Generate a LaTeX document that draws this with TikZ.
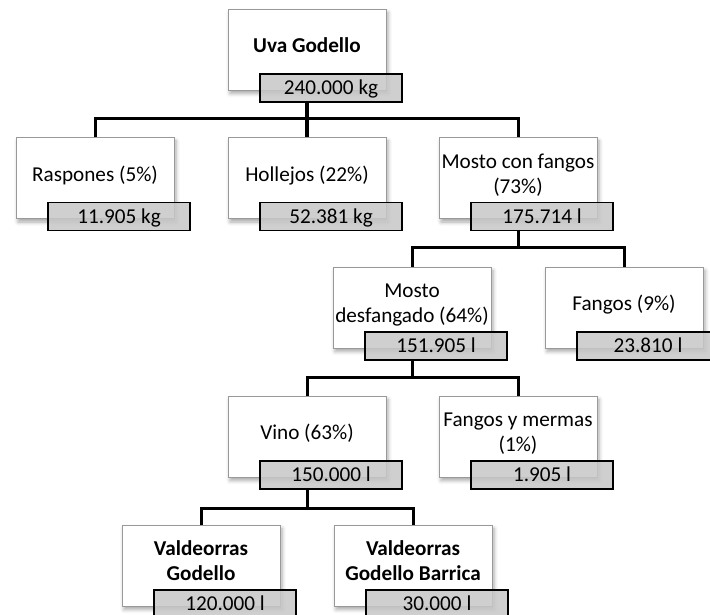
\documentclass[tikz,border=0pt]{standalone}
\usepackage{fontspec}
\setmainfont{Carlito}
\usetikzlibrary{shadows.blur}

\begin{document}
\begin{tikzpicture}[x=0.5pt,y=-0.5pt,
    caja/.style={draw=black!40,fill=white,line width=0.5pt,
                 minimum width=79pt,minimum height=40.5pt,inner sep=0pt,
                 align=center,text depth=5pt,
                 font=\fontsize{10.6}{12.5}\selectfont,
                 blur shadow={shadow xshift=1pt,shadow yshift=-1.5pt,
                              shadow blur steps=4,shadow opacity=35}},
    negrita/.style={font=\fontsize{10.6}{12.5}\selectfont\bfseries},
    cant/.style={draw=black,fill=black!22,fill opacity=0.85,text opacity=1,
                 line width=0.6pt,minimum width=71pt,minimum height=14pt,
                 inner sep=0pt,text height=6.6pt,text depth=0pt,
                 font=\fontsize{10.6}{12.5}\selectfont},
    flow/.style={draw=black,line width=1.5pt}
  ]
    \useasboundingbox (0,0) rectangle (710,614);

    % niveles de las barras
    \coordinate (nivel1) at (0,119);
    \coordinate (nivel2) at (0,248);
    \coordinate (nivel3) at (0,377);
    \coordinate (nivel4) at (0,508);

    \node[caja,negrita] (uva) at (307,50) {Uva Godello};
    \node[cant] (uvaq) at ([xshift=12pt,yshift=1.5pt]uva.south) {240.000 kg};

    \node[caja] (rasp) at (95,178.5) {Raspones (5\%)};
    \node[cant] (raspq) at ([xshift=12pt,yshift=1.5pt]rasp.south) {11.905 kg};
    \node[caja] (holl) at (307,178.5) {Hollejos (22\%)};
    \node[cant] (hollq) at ([xshift=12pt,yshift=1.5pt]holl.south) {52.381 kg};
    \node[caja] (mcf) at (518,178.5) {Mosto con fangos\\(73\%)};
    \node[cant] (mcfq) at ([xshift=12pt,yshift=1.5pt]mcf.south) {175.714 l};

    \node[caja] (mdes) at (412,308) {Mosto\\desfangado (64\%)};
    \node[cant] (mdesq) at ([xshift=12pt,yshift=1.5pt]mdes.south) {151.905 l};
    \node[caja] (fang) at (624,308) {Fangos (9\%)};
    \node[cant] (fangq) at ([xshift=12pt,yshift=1.5pt]fang.south) {23.810 l};

    \node[caja] (vino) at (307,437) {Vino (63\%)};
    \node[cant] (vinoq) at ([xshift=12pt,yshift=1.5pt]vino.south) {150.000 l};
    \node[caja] (fym) at (518,437) {Fangos y mermas\\(1\%)};
    \node[cant] (fymq) at ([xshift=12pt,yshift=1.5pt]fym.south) {1.905 l};

    \node[caja,negrita] (vg) at (201,566) {Valdeorras\\Godello};
    \node[cant] (vgq) at ([xshift=12pt,yshift=1.5pt]vg.south) {120.000 l};
    \node[caja,negrita] (vgb) at (413,566) {Valdeorras\\Godello Barrica};
    \node[cant] (vgbq) at ([xshift=12pt,yshift=1.5pt]vgb.south) {30.000 l};

    % uva -> raspones, hollejos, mosto
    \draw[flow,line width=2.4pt] (uvaq.south -| uva) -- (holl.north);
    \draw[flow] (rasp.north) -- (rasp |- nivel1) -- (mcf |- nivel1) -- (mcf.north);

    % mosto con fangos -> desfangado, fangos
    \draw[flow] (mcfq.south -| mcf) -- (mcf |- nivel2);
    \draw[flow] (mdes.north) -- (mdes |- nivel2) -- (fang |- nivel2) -- (fang.north);

    % desfangado -> vino, mermas
    \draw[flow] (mdesq.south -| mdes) -- (mdes |- nivel3);
    \draw[flow] (vino.north) -- (vino |- nivel3) -- (fym |- nivel3) -- (fym.north);

    % vino -> embotellado
    \draw[flow] (vinoq.south -| vino) -- (vino |- nivel4);
    \draw[flow] (vg.north) -- (vg |- nivel4) -- (vgb |- nivel4) -- (vgb.north);
\end{tikzpicture}
\end{document}
